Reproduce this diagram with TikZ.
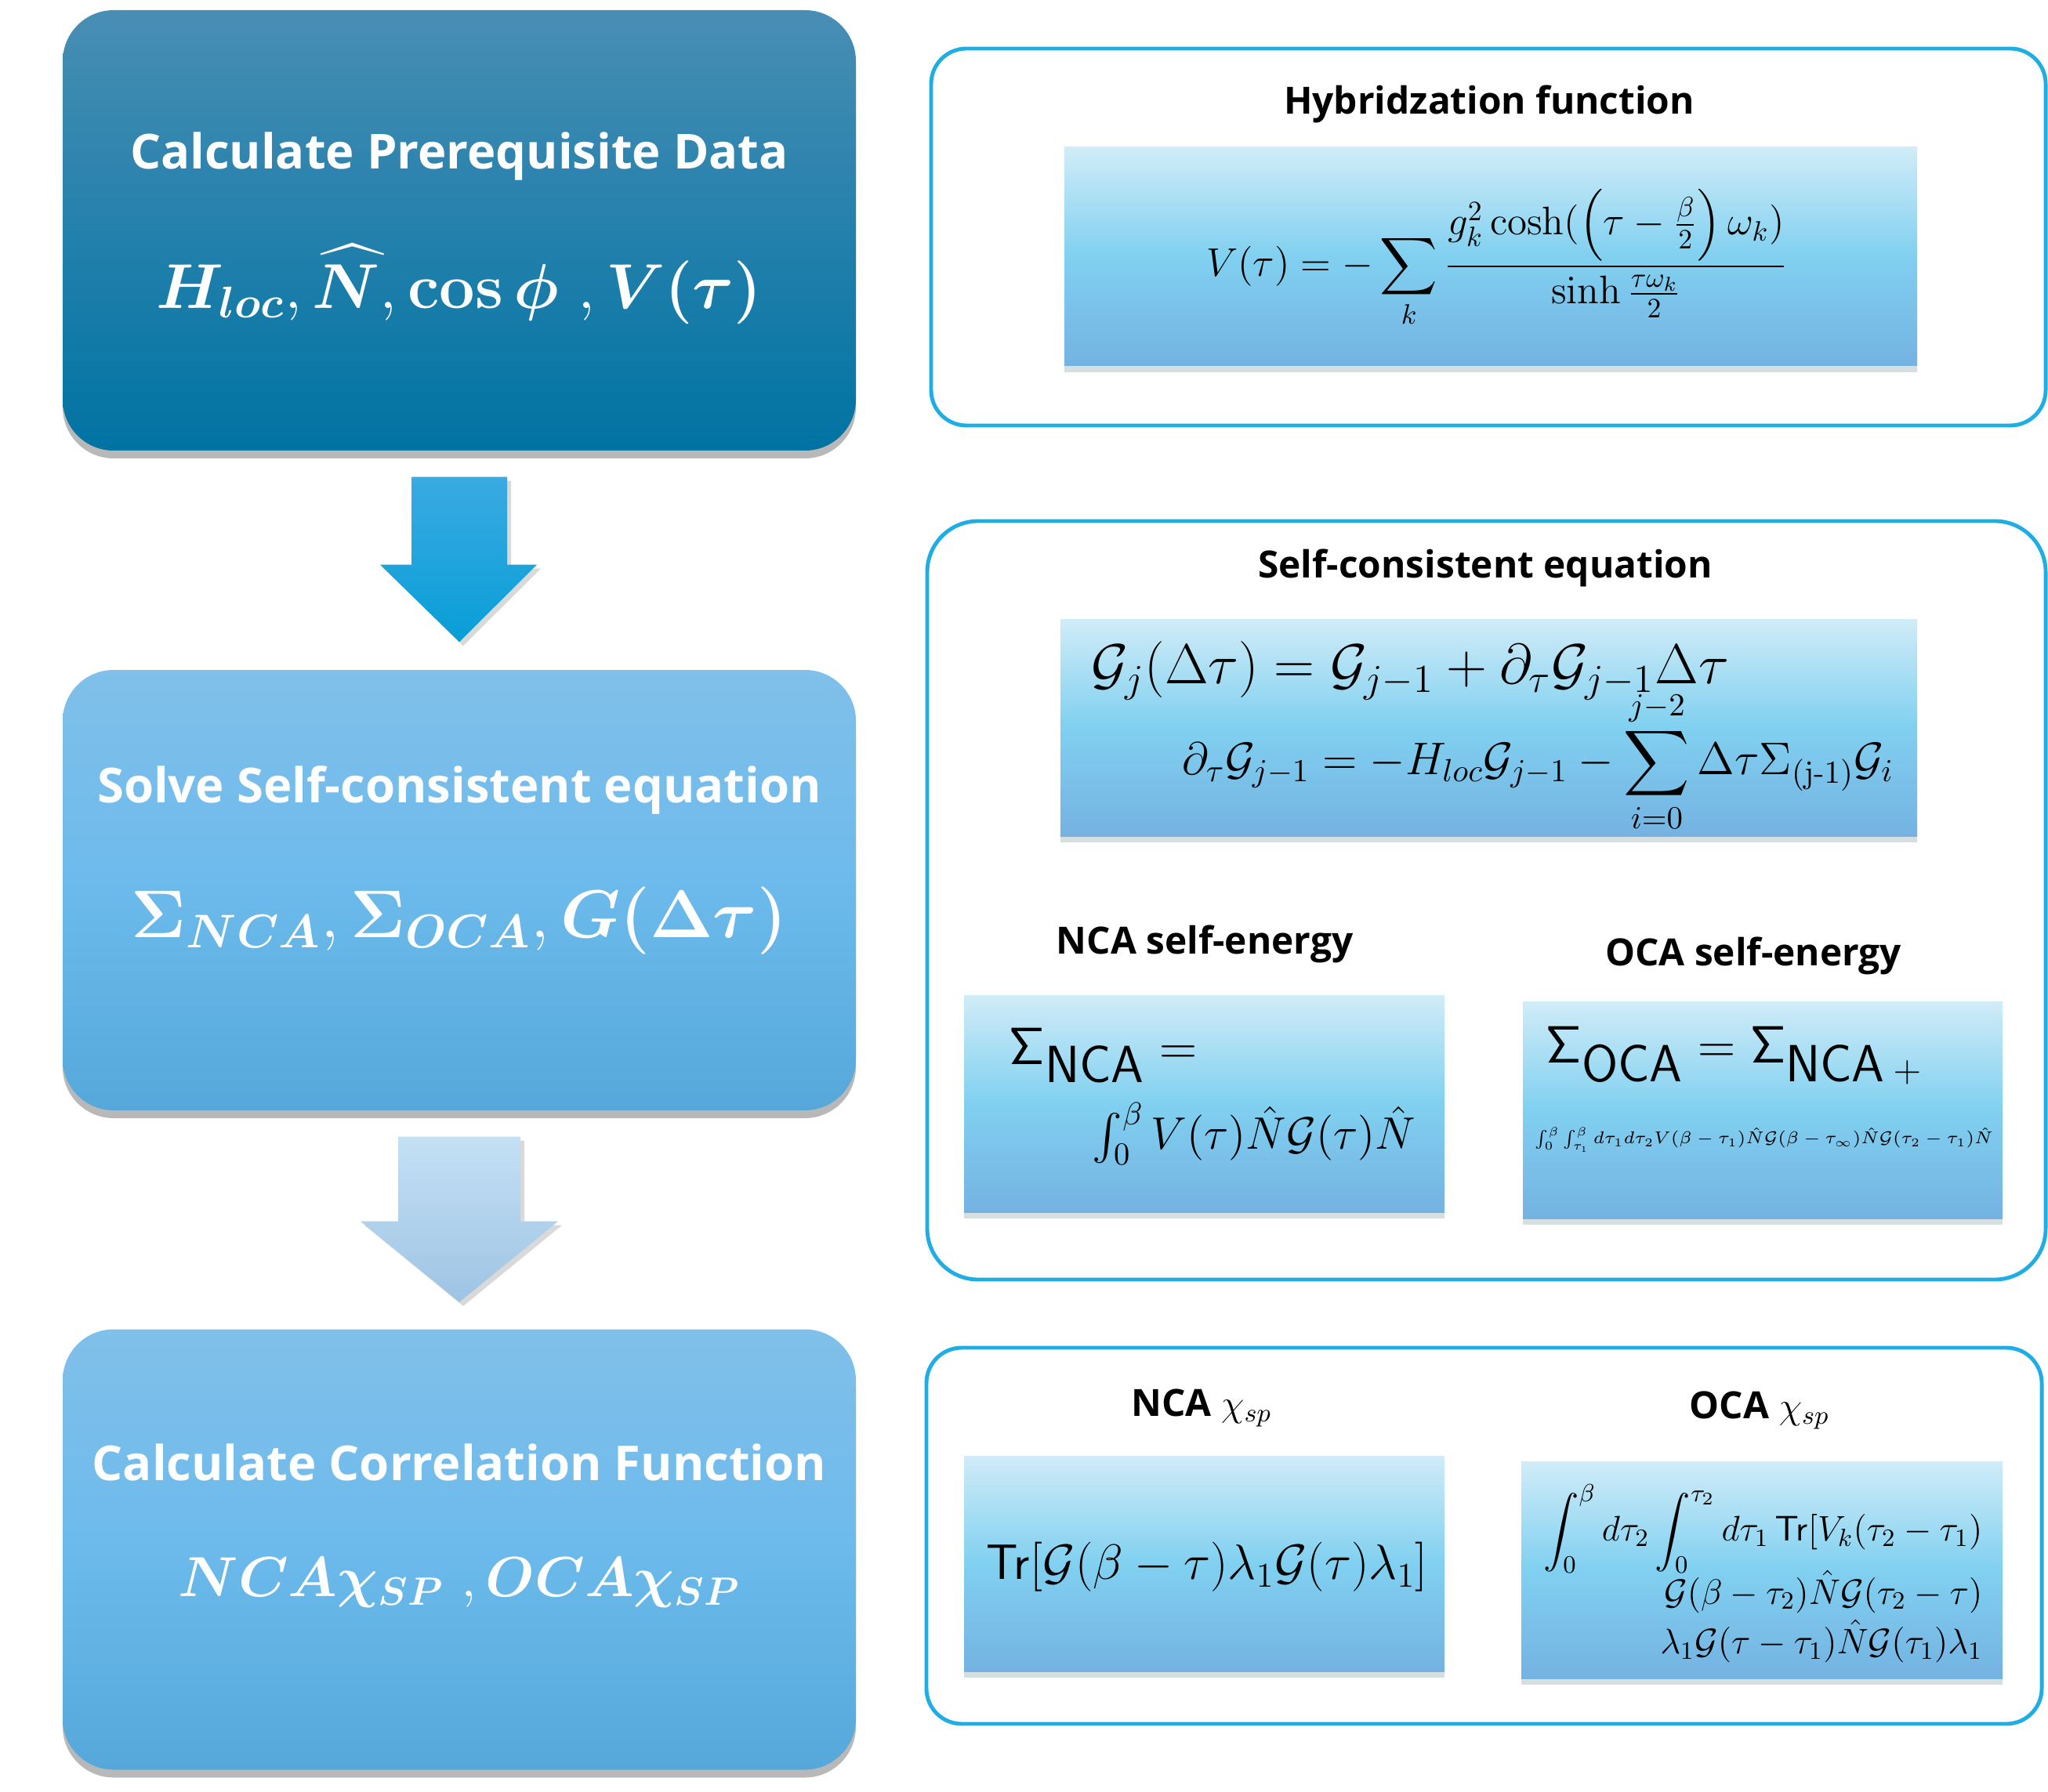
\RequirePackage{fix-cm}
\documentclass[tikz,border=0pt]{standalone}
\usepackage{amsmath, amssymb, bm}
\usepackage[no-math]{fontspec}
\setsansfont{Open Sans}
\usepackage{tikz}
\usetikzlibrary{positioning, calc, shadows}

\definecolor{darktop}{HTML}{488EB4}
\definecolor{darkbot}{HTML}{0073A3}
\definecolor{lighttop}{HTML}{80C0EA}
\definecolor{lightmid}{HTML}{6CBAEC}
\definecolor{lightbot}{HTML}{56A8DA}
\definecolor{arrowtop}{HTML}{3AAAE2}
\definecolor{arrowbot}{HTML}{089ED6}
\definecolor{palearrowtop}{HTML}{C4E0F4}
\definecolor{palearrowbot}{HTML}{9EC4E4}
\definecolor{panelblue}{HTML}{1EAEE4}
\definecolor{eqtop}{HTML}{D0ECF8}
\definecolor{eqmid}{HTML}{80D0F0}
\definecolor{eqbot}{HTML}{74B2E2}

\begin{document}
\begin{tikzpicture}[
	stepbox/.style={rounded corners=0.65cm, minimum width=10.12cm, minimum height=5.62cm,
		drop shadow={opacity=0.35, shadow xshift=0cm, shadow yshift=-0.1cm, fill=black!80}},
	darkbox/.style={stepbox, top color=darktop, bottom color=darkbot},
	lightbox/.style={stepbox, top color=lighttop, bottom color=lightbot, middle color=lightmid},
	boxtitle/.style={text=white, font=\sffamily\bfseries\fontsize{17.5}{20}\selectfont},
	boxmath/.style={text=white, font=\fontsize{23}{28}\selectfont},
	panel/.style={draw=panelblue, line width=1.4pt, fill=white, rounded corners=0.45cm},
	paneltitle/.style={font=\sffamily\bfseries\fontsize{13.6}{16}\selectfont},
	eqbox/.style={top color=eqtop, bottom color=eqbot, middle color=eqmid,
		drop shadow={opacity=0.25, shadow xshift=0cm, shadow yshift=-0.08cm, fill=teal!30!gray}},
	eq/.style={inner sep=0pt},
	]
	\useasboundingbox (0,0) rectangle (26.13,-22.87);

	% left column
	\node[darkbox] (prep) at (5.86,-2.94) {};
	\node[lightbox] (solve) at (5.86,-11.36) {};
	\node[lightbox] (corr) at (5.86,-19.775) {};

	\node[boxtitle] (preptitle) at (5.86,-2.00) {Calculate Prerequisite Data};
	\node[boxmath] (prepmath) at (5.86,-3.63)
		{$\bm{H}_{\bm{loc}}, \widehat{\bm{N}}, \mathbf{cos}\,\bm{\phi}\ , \bm{V}\bm{(}\bm{\tau}\bm{)}$};
	\node[boxtitle] (solvetitle) at (5.86,-10.08) {Solve Self-consistent equation};
	\node[boxmath, font=\fontsize{24.5}{29}\selectfont] (solvemath) at (5.86,-11.75)
		{$\bm{\Sigma}_{\bm{NCA}}, \bm{\Sigma}_{\bm{OCA}}, \bm{G}\bm{(}\bm{\Delta\tau}\bm{)}$};
	\node[boxtitle] (corrtitle) at (5.86,-18.66) {Calculate Correlation Function};
	\node[boxmath, font=\fontsize{20.5}{24}\selectfont] (corrmath) at (5.86,-20.20)
		{$\bm{NCA\chi}_{\bm{SP}}\ , \bm{OCA\chi}_{\bm{SP}}$};

	\shade[top color=arrowtop, bottom color=arrowbot, drop shadow={opacity=0.3, shadow xshift=0.05cm, shadow yshift=-0.05cm}]
		($(prep.south)+(-0.61,-0.33)$) -- ++(1.22,0) -- ++(0,-1.12) -- ++(0.38,0)
		-- ($(solve.north)+(0,0.35)$) -- ($(prep.south)+(-1.01,-1.45)$) -- ++(0.40,0) -- cycle;
	\shade[top color=palearrowtop, bottom color=palearrowbot, drop shadow={opacity=0.3, shadow xshift=0.05cm, shadow yshift=-0.05cm}]
		($(solve.south)+(-0.78,-0.33)$) -- ++(1.56,0) -- ++(0,-1.08) -- ++(0.48,0)
		-- ($(corr.north)+(0,0.34)$) -- ($(solve.south)+(-1.26,-1.41)$) -- ++(0.48,0) -- cycle;

	% right column
	\node[panel, minimum width=14.22cm, minimum height=4.81cm] (hybpanel) at (18.99,-3.025) {};
	\node[panel, rounded corners=0.65cm, minimum width=14.27cm, minimum height=9.68cm] (scpanel) at (18.965,-11.49) {};
	\node[panel, minimum width=14.23cm, minimum height=4.80cm] (chipanel) at (18.935,-19.60) {};

	\node[paneltitle] (hybtitle) at (19.0,-1.33) {Hybridzation function};
	\node[eqbox, minimum width=10.88cm, minimum height=2.79cm] (hyb) at (19.02,-3.275) {};
	\node[eq, font=\fontsize{14.5}{17}\selectfont] (hybeq) at (19.1,-3.3)
		{$\displaystyle V(\tau) = -\sum_{k}\frac{g_k^2\cosh(\left(\tau-\frac{\beta}{2}\right)\omega_k)}{\sinh\frac{\tau\omega_k}{2}}$};

	\node[paneltitle] (sctitle) at (18.95,-7.25) {Self-consistent equation};
	\node[eqbox, minimum width=10.93cm, minimum height=2.77cm] (sc) at (18.995,-9.285) {};
	\node[eq, font=\fontsize{20.5}{24}\selectfont, anchor=west] (sceqa) at (13.92,-8.56)
		{$\mathcal{G}_j(\Delta\tau) = \mathcal{G}_{j-1} + \partial_\tau\mathcal{G}_{j-1}\Delta\tau$};
	\node[eq, font=\fontsize{16.6}{20}\selectfont, anchor=east] (sceqb) at (24.17,-9.72)
		{$\displaystyle \partial_\tau\mathcal{G}_{j-1} = -H_{loc}\mathcal{G}_{j-1} - \sum_{i=0}^{j-2}\Delta\tau\Sigma_{\mathrm{(j\text{-}1)}}\mathcal{G}_i$};

	\node[paneltitle] (ncasetitle) at (15.37,-12.05) {NCA self-energy};
	\node[paneltitle] (ocasetitle) at (22.37,-12.20) {OCA self-energy};
	\node[eqbox, minimum width=6.13cm, minimum height=2.77cm] (ncase) at (15.365,-14.085) {};
	\node[eqbox, minimum width=6.12cm, minimum height=2.77cm] (ocase) at (22.49,-14.165) {};
	\node[eq, font=\fontsize{19}{23}\selectfont, anchor=west] (ncaseqa) at (12.87,-13.47)
		{$\mathsf{\Sigma}_{\textstyle\mathsf{NCA}} =$};
	\node[eq, font=\fontsize{16.5}{19}\selectfont, anchor=west] (ncaseqb) at (13.93,-14.47)
		{$\int_0^\beta V(\tau)\hat{N}\mathcal{G}(\tau)\hat{N}$};
	\node[eq, font=\fontsize{19}{23}\selectfont, anchor=west] (ocaseqa) at (19.72,-13.47)
		{$\mathsf{\Sigma}_{\textstyle\mathsf{OCA}} = \mathsf{\Sigma}_{\textstyle\mathsf{NCA}\,{\scriptstyle +}}$};
	\node[eq, font=\fontsize{6.2}{8}\selectfont, anchor=west] (ocaseqb) at (19.58,-14.55)
		{$\int_0^\beta\int_{\tau_1}^\beta d\tau_1 d\tau_2 V(\beta-\tau_1)\hat{N}\mathcal{G}(\beta-\tau_\infty)\hat{N}\mathcal{G}(\tau_2-\tau_1)\hat{N}$};

	\node[paneltitle] (ncachititle) at (15.33,-17.97) {NCA $\chi_{sp}$};
	\node[paneltitle] (ocachititle) at (22.45,-18.00) {OCA $\chi_{sp}$};
	\node[eqbox, minimum width=6.13cm, minimum height=2.75cm] (ncachi) at (15.365,-19.955) {};
	\node[eqbox, minimum width=6.14cm, minimum height=2.77cm] (ocachi) at (22.48,-20.035) {};
	\node[eq, font=\fontsize{18}{21}\selectfont] (ncachieq) at (15.40,-20.0)
		{$\mathsf{Tr}[\mathcal{G}(\beta-\tau)\lambda_1\mathcal{G}(\tau)\lambda_1]$};
	\node[eq, font=\fontsize{12.9}{18}\selectfont, align=right, anchor=east] (ocachieq) at (25.30,-20.08)
		{$\displaystyle\int_0^\beta d\tau_2\int_0^{\tau_2}d\tau_1\,\mathsf{Tr}[V_k(\tau_2-\tau_1)$\\[-2pt]
		$\mathcal{G}(\beta-\tau_2)\hat{N}\mathcal{G}(\tau_2-\tau)$\\
		$\lambda_1\mathcal{G}(\tau-\tau_1)\hat{N}\mathcal{G}(\tau_1)\lambda_1$};
\end{tikzpicture}
\end{document}
